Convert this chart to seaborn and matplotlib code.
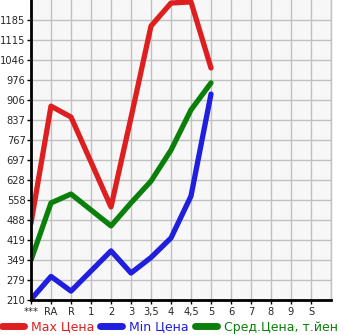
import numpy as np
import pandas as pd
import matplotlib
matplotlib.use("Agg")
import matplotlib.pyplot as plt
import seaborn as sns
from matplotlib.lines import Line2D

categories = ["***", "RA", "R", "1", "2", "3", "3,5", "4", "4,5", "5", "6", "7", "8", "9", "S"]
max_price = [478, 885, 847, np.nan, 534, 845, 1164, 1244, 1248, 1018, np.nan, np.nan, np.nan, np.nan, np.nan]
min_price = [212, 292, 241, np.nan, 381, 304, 358, 426, 572, 927, np.nan, np.nan, np.nan, np.nan, np.nan]
avg_price = [349, 548, 579, np.nan, 468, 548, 624, 732, 872, 966, np.nan, np.nan, np.nan, np.nan, np.nan]
y_ticks = [210, 279, 349, 419, 488, 558, 628, 697, 767, 837, 906, 976, 1046, 1115, 1185]
series_names = ["Max Цена", "Min Цена", "Сред.Цена, т.йен"]
colors = {"Max Цена": "#dd1f1f", "Min Цена": "#1f1fdd", "Сред.Цена, т.йен": "#0a800a"}

rows = []
for name, vals in zip(series_names, [max_price, min_price, avg_price]):
    for i, v in enumerate(vals):
        rows.append({"pos": i, "value": v, "series": name})
df = pd.DataFrame(rows).dropna()

sns.set_style("white")
fig = plt.figure(figsize=(3.45, 3.35), dpi=100)
ax = fig.add_axes([31 / 345, 35 / 335, 300 / 345, 300 / 335])
ax.set_facecolor("#f7f7f7")

for name in series_names:
    sub = df[df["series"] == name]
    sns.lineplot(data=sub, x="pos", y="value", color=colors[name], linewidth=3.8,
                 ax=ax, legend=False, sort=True, solid_capstyle="round", solid_joinstyle="round")

ax.set_xlim(0, 15)
ax.set_ylim(210, 1254.6)
ax.set_xticks(range(len(categories)))
ax.set_xticklabels(categories)
ax.set_xticks([15], minor=True)
ax.set_yticks(y_ticks)
ax.set_yticklabels([str(t) for t in y_ticks])
ax.grid(True, which="both", color="#c0c0c0", linewidth=1)
ax.set_axisbelow(True)
ax.set_xlabel("")
ax.set_ylabel("")
ax.spines["top"].set_visible(False)
ax.spines["right"].set_color("#c0c0c0")
ax.spines["right"].set_linewidth(1)
ax.spines["left"].set_color("black")
ax.spines["left"].set_linewidth(2)
ax.spines["bottom"].set_color("black")
ax.spines["bottom"].set_linewidth(2)
ax.tick_params(axis="both", which="major", length=3, width=1, color="black",
               labelsize=7.1, pad=1, direction="out")
ax.tick_params(axis="x", which="major", pad=2)
ax.tick_params(axis="x", which="minor", length=3, width=1, color="black")
ax.tick_params(left=True, bottom=True)

handles = [Line2D([0], [0], color=colors[n], linewidth=5, solid_capstyle="round") for n in series_names]
leg = fig.legend(handles, series_names, loc="center left", bbox_to_anchor=(0.005, 8 / 335),
                 ncol=3, frameon=False, fontsize=9, handlelength=1.75, handletextpad=0.6,
                 columnspacing=0.45, borderpad=0, borderaxespad=0)
for t, n in zip(leg.get_texts(), series_names):
    t.set_color(colors[n])

fig.savefig("out.png", dpi=100)
